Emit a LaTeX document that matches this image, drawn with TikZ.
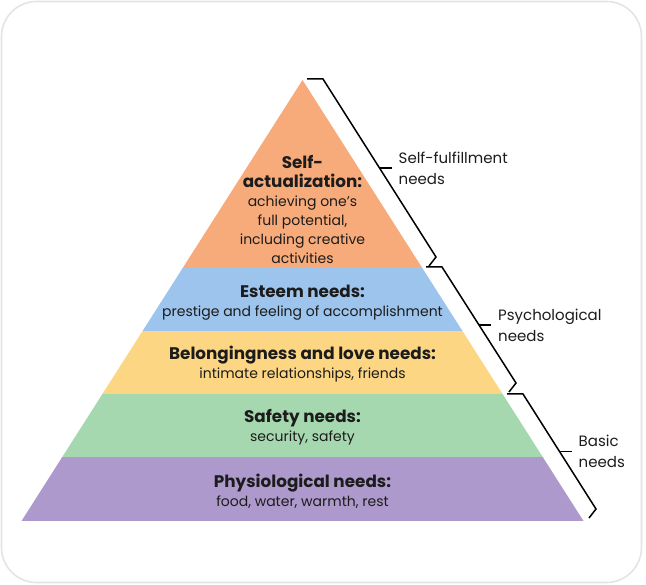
\documentclass[tikz,border=0pt]{standalone}
\usepackage{fontspec}
\setmainfont{Poppins}
\usetikzlibrary{calc}
\definecolor{cOrange}{RGB}{247,171,122}
\definecolor{cBlue}{RGB}{157,196,236}
\definecolor{cYellow}{RGB}{253,214,131}
\definecolor{cGreen}{RGB}{166,216,176}
\definecolor{cPurple}{RGB}{174,153,204}
\definecolor{ink}{RGB}{28,28,28}
\definecolor{cardline}{RGB}{228,228,228}
\newcommand\hdfont{\fontsize{16.8}{21}\selectfont\bfseries}
\begin{document}
\begin{tikzpicture}[x=1pt,y=-1pt,
  lbl/.style={align=center, text=ink, font=\fontsize{14}{19}\selectfont, inner sep=0pt},
  side/.style={align=left, anchor=west, text=ink, font=\fontsize{15}{21}\selectfont, inner sep=0pt},
  bracket/.style={line width=1.5pt, line join=miter, black}]
\path[use as bounding box] (0,0) rectangle (646,585);
\draw[cardline, line width=1.6pt, fill=white, rounded corners=35pt] (1.5,1.5) rectangle (641.5,582.5);
% pyramid
\coordinate (A) at (302.5,80);
\coordinate (BL) at (21.5,521);
\coordinate (BR) at (583.5,521);
\foreach \i/\t in {1/0.4263,2/0.5692,3/0.7120,4/0.8549}{
  \coordinate (L\i) at ($(A)!\t!(BL)$);
  \coordinate (R\i) at ($(A)!\t!(BR)$);
}
\fill[cOrange] (A) -- (R1) -- (L1) -- cycle;
\fill[cBlue] (L1) -- (R1) -- (R2) -- (L2) -- cycle;
\fill[cYellow] (L2) -- (R2) -- (R3) -- (L3) -- cycle;
\fill[cGreen] (L3) -- (R3) -- (R4) -- (L4) -- cycle;
\fill[cPurple] (L4) -- (R4) -- (BR) -- (BL) -- cycle;
% labels
\node[lbl] (selfact) at (302.5,209) {\hdfont Self-\\\hdfont actualization:\\achieving one’s\\full potential,\\including creative\\activities};
\node[lbl] (esteem) at (302.5,302.5) {\hdfont Esteem needs:\\prestige and feeling of accomplishment};
\node[lbl] (belong) at (302.5,364) {\hdfont Belongingness and love needs:\\intimate relationships, friends};
\node[lbl] (safety) at (302.5,427.5) {\hdfont Safety needs:\\security, safety};
\node[lbl] (physio) at (302.5,491) {\hdfont Physiological needs:\\food, water, warmth, rest};
% braces
\coordinate (b1t) at (323,79);  \coordinate (b1b) at (436,257);
\coordinate (b2t) at (442,267); \coordinate (b2b) at (516,383);
\coordinate (b3t) at (523,394); \coordinate (b3b) at (596,509);
\foreach \i in {1,2,3}{
  \coordinate (b\i m) at ($(b\i t)!0.5!(b\i b)$);
  \draw[bracket] ($(b\i t)+(-16,0)$) -- (b\i t) -- (b\i b) -- ++(-7,9);
  \draw[bracket] (b\i m) -- ++(12,0);
}
\node[side] (selffulfil) at ($(b1m)+(19,0)$) {Self-fulfillment\\needs};
\node[side] (psych) at ($(b2m)+(19,0)$) {Psychological\\needs};
\node[side] (basic) at ($(b3m)+(19,0)$) {Basic\\needs};
\end{tikzpicture}
\end{document}
